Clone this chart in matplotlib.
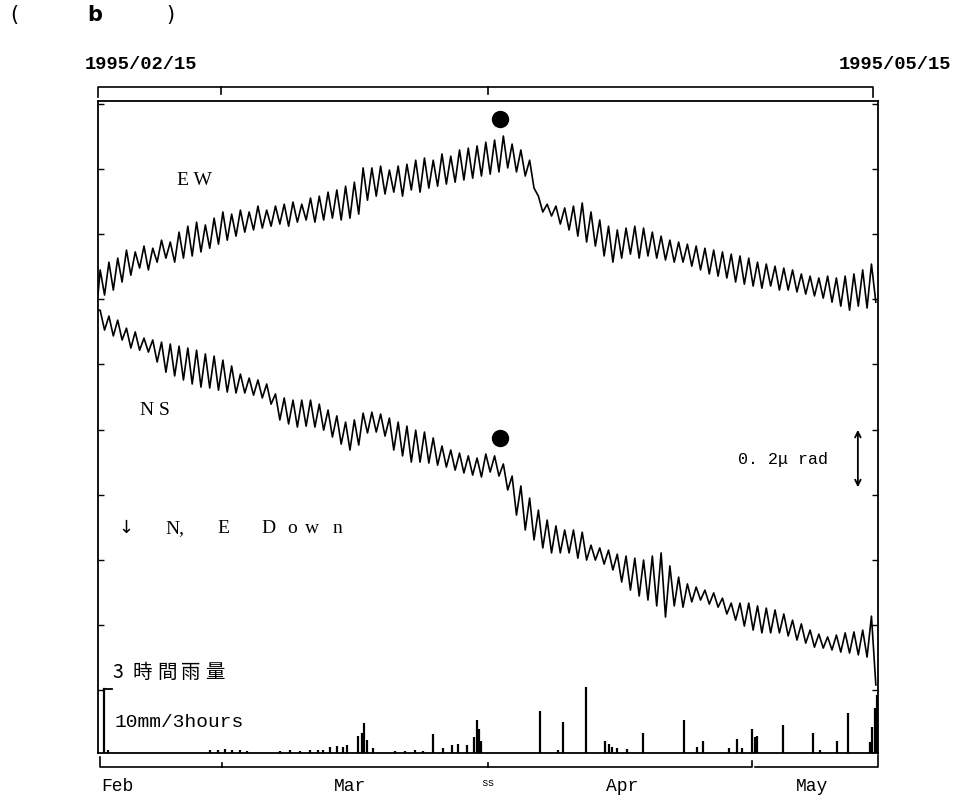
import numpy as np
import matplotlib
matplotlib.use("Agg")
import matplotlib.pyplot as plt
import matplotlib.transforms as mtransforms

# tilt record 1995/02/15 - 1995/05/15, day 0 = Feb 15
# daily high / low of each trace, micro-radian (relative)
ew_hi = [1.565, 1.590, 1.603, 1.629, 1.623, 1.642, 1.635, 1.661, 1.655, 1.687,
         1.706, 1.719, 1.710, 1.732, 1.752, 1.745, 1.758, 1.752, 1.771, 1.758,
         1.771, 1.777, 1.784, 1.777, 1.797, 1.803, 1.816, 1.823, 1.835, 1.848,
         1.894, 1.894, 1.900, 1.887, 1.900, 1.906, 1.919, 1.926, 1.919, 1.939,
         1.932, 1.952, 1.958, 1.965, 1.977, 1.984, 1.997, 1.971, 1.952, 1.919,
         1.803, 1.777, 1.771, 1.765, 1.771, 1.781, 1.752, 1.726, 1.706, 1.694,
         1.700, 1.706, 1.700, 1.687, 1.674, 1.661, 1.655, 1.648, 1.642, 1.635,
         1.629, 1.623, 1.616, 1.610, 1.603, 1.590, 1.584, 1.577, 1.571, 1.565,
         1.552, 1.545, 1.539, 1.545, 1.539, 1.545, 1.552, 1.565, 1.584]
ew_lo = [1.484, 1.500, 1.526, 1.548, 1.571, 1.565, 1.590, 1.603, 1.590, 1.603,
         1.610, 1.623, 1.635, 1.648, 1.661, 1.674, 1.687, 1.694, 1.700, 1.706,
         1.713, 1.706, 1.719, 1.726, 1.719, 1.726, 1.732, 1.726, 1.732, 1.745,
         1.790, 1.803, 1.810, 1.816, 1.803, 1.823, 1.816, 1.829, 1.835, 1.842,
         1.848, 1.855, 1.861, 1.868, 1.874, 1.881, 1.894, 1.881, 1.868, 1.829,
         1.752, 1.739, 1.713, 1.694, 1.674, 1.655, 1.642, 1.610, 1.590, 1.603,
         1.616, 1.603, 1.610, 1.603, 1.597, 1.590, 1.590, 1.577, 1.565, 1.552,
         1.545, 1.539, 1.526, 1.519, 1.513, 1.506, 1.513, 1.500, 1.500, 1.494,
         1.487, 1.481, 1.474, 1.461, 1.448, 1.435, 1.448, 1.442, 1.461]

ns_hi = [1.435, 1.416, 1.403, 1.377, 1.365, 1.345, 1.339, 1.332, 1.326, 1.319,
         1.313, 1.306, 1.294, 1.287, 1.274, 1.255, 1.229, 1.216, 1.210, 1.197,
         1.165, 1.152, 1.145, 1.145, 1.145, 1.132, 1.113, 1.094, 1.074, 1.081,
         1.103, 1.106, 1.100, 1.087, 1.074, 1.061, 1.048, 1.042, 1.023, 0.997,
         0.984, 0.974, 0.965, 0.958, 0.971, 0.965, 0.939, 0.900, 0.868, 0.829,
         0.790, 0.758, 0.739, 0.726, 0.726, 0.719, 0.677, 0.668, 0.661, 0.648,
         0.642, 0.635, 0.629, 0.642, 0.652, 0.610, 0.574, 0.552, 0.542, 0.532,
         0.523, 0.506, 0.490, 0.490, 0.490, 0.481, 0.474, 0.468, 0.455, 0.435,
         0.423, 0.403, 0.390, 0.381, 0.387, 0.394, 0.397, 0.403, 0.448]
ns_lo = [1.371, 1.352, 1.339, 1.313, 1.306, 1.300, 1.268, 1.235, 1.223, 1.210,
         1.197, 1.187, 1.184, 1.177, 1.171, 1.168, 1.168, 1.161, 1.152, 1.132,
         1.081, 1.068, 1.058, 1.061, 1.058, 1.048, 1.026, 1.003, 0.984, 1.000,
         1.039, 1.042, 1.029, 0.984, 0.965, 0.945, 0.945, 0.942, 0.935, 0.929,
         0.919, 0.910, 0.903, 0.897, 0.913, 0.900, 0.855, 0.774, 0.726, 0.694,
         0.668, 0.652, 0.652, 0.652, 0.635, 0.629, 0.629, 0.616, 0.597, 0.558,
         0.532, 0.513, 0.500, 0.481, 0.445, 0.481, 0.477, 0.494, 0.500, 0.487,
         0.477, 0.455, 0.435, 0.416, 0.403, 0.394, 0.394, 0.394, 0.384, 0.371,
         0.361, 0.348, 0.345, 0.339, 0.332, 0.329, 0.323, 0.316, 0.226]

# 3-hour rainfall events (day, mm)
rain_day = [1.1, 12.8, 13.7, 14.5, 15.3, 16.2, 17.0, 20.8, 21.9, 23.0, 24.2, 25.1, 25.7,
            26.5, 27.3, 28.0, 28.4, 29.7, 30.1, 30.4, 30.7, 31.4, 33.9, 35.0, 36.2, 37.1,
            38.2, 39.4, 40.4, 41.1, 42.1, 42.9, 43.2, 43.5, 43.7, 50.4, 52.5, 53.1, 55.7,
            57.9, 58.3, 58.6, 59.2, 60.4, 62.2, 66.9, 68.3, 69.0, 72.0, 72.9, 73.5,
            74.6, 75.0, 75.2, 78.2, 81.6, 82.4, 84.3, 85.6, 88.1, 88.3, 88.7, 88.9]
rain_mm = [0.4, 0.5, 0.4, 0.6, 0.4, 0.5, 0.3, 0.3, 0.4, 0.3, 0.5, 0.4, 0.5,
           1.0, 1.1, 1.0, 1.2, 2.6, 3.2, 4.7, 2.0, 0.8, 0.3, 0.3, 0.4, 0.3,
           3.0, 0.8, 1.2, 1.4, 1.2, 2.5, 5.2, 3.8, 1.8, 6.5, 0.5, 4.8, 10.3,
           1.9, 1.4, 1.0, 0.8, 0.6, 3.1, 5.2, 1.0, 1.8, 0.8, 2.2, 0.8,
           3.8, 2.5, 2.7, 4.4, 3.1, 0.5, 1.9, 6.3, 1.7, 4.0, 7.0, 9.0]

event_day = 45.9
ew_event = 2.052
ns_event = 1.023

months = ["Feb", "Mar", "Apr", "May"]
month_pos = [2.2, 28.8, 59.8, 81.5]
n_days = 89

# build interleaved time series (high in first half of day, low in second)
def trace(hi, lo):
    d = np.arange(len(hi))
    t = np.empty(2 * len(hi))
    v = np.empty(2 * len(hi))
    t[0::2] = d + 0.25
    t[1::2] = d + 0.75
    v[0::2] = hi
    v[1::2] = lo
    return t, v

mono = "Liberation Mono"
serif = "Liberation Serif"
cjk = ["Noto Sans CJK JP", "DejaVu Sans"]

fig = plt.figure(figsize=[9.55, 8.0], dpi=100)
ax = fig.add_axes([0.1026, 0.05875, 0.8168, 0.815])
ax.set_xlim(0, n_days)
ax.set_ylim(0.0065, 2.11)

t, v = trace(ew_hi, ew_lo)
ax.plot(np.r_[0, t], np.r_[ew_lo[0], v], color="black", lw=1.2)
t, v = trace(ns_hi, ns_lo)
ax.plot(np.r_[0, t], np.r_[ns_hi[0], v], color="black", lw=1.2)

ax.plot(event_day, ew_event, "o", color="black", ms=11.5)
ax.plot(event_day, ns_event, "o", color="black", ms=11.5)

for s in ax.spines.values():
    s.set_linewidth(1.3)
ax.set_xticks([])
ax.set_yticks(np.arange(0.21, 2.11, 0.21))
ax.tick_params(axis="y", direction="in", length=4, width=1, left=True, right=True,
               labelleft=False)

# rain panel
axr = fig.add_axes([0.1026, 0.05875, 0.8168, 0.11625])
axr.set_xlim(0, n_days)
axr.set_ylim(0, 14.53)
axr.axis("off")
axr.patch.set_alpha(0)
axr.vlines(rain_day, 0, rain_mm, color="black", lw=1.6)
axr.plot([0.68, 0.68], [0, 10], color="black", lw=1.6)
axr.plot([0.68, 1.6], [10, 10], color="black", lw=1.3)

# labels inside frame
ax.text(11.0, 1.855, "E W", family=serif, fontsize=14, ha="center", va="center")
ax.text(6.5, 1.113, "N S", family=serif, fontsize=14, ha="center", va="center")
ax.text(3.2, 0.732, "↓", family="DejaVu Sans", fontsize=13, ha="center", va="center")
ax.text(7.7, 0.732, "N,", family=serif, fontsize=14, ha="left", va="center")
ax.text(13.6, 0.732, "E", family=serif, fontsize=14, ha="left", va="center")
for ch, d in zip("Down", [19.4, 22.1, 24.4, 27.3]):
    ax.text(d, 0.732, ch, family=serif, fontsize=14, ha="center", va="center")
ax.text(73.0, 0.955, "0. 2μ rad", family=mono, fontsize=12, ha="left", va="center")
ax.annotate("", xy=(86.7, 1.058), xytext=(86.7, 0.855),
            arrowprops=dict(arrowstyle="<->", color="black", lw=1.3))
for ch, d in zip("3時間雨量", [2.3, 5.1, 7.9, 10.6, 13.3]):
    ax.text(d, 0.265, ch, family=cjk, fontsize=14, ha="center", va="center")
ax.text(1.9, 0.106, "10mm/3hours", family=mono, fontsize=14, ha="left", va="center")

# brackets and date labels outside the frame
trans = mtransforms.blended_transform_factory(ax.transData, ax.transAxes)
kw = dict(color="black", lw=1.2, transform=trans, clip_on=False)
ax.plot([0, 0, 88.4, 88.4], [1.006, 1.0215, 1.0215, 1.006], **kw)
for d in [14.0, 44.5]:
    ax.plot([d, d], [1.0215, 1.010], **kw)
ax.plot([0.2, 0.2, 74.6, 74.6], [-0.006, -0.0215, -0.0215, -0.012], **kw)
ax.plot([75.0, 89.0, 89.0], [-0.0215, -0.0215, -0.003], **kw)
for d in [14.2, 44.5]:
    ax.plot([d, d], [-0.0215, -0.016], **kw)

ax.text(4.9, 1.0567, "1995/02/15", family=mono, fontsize=13.5, fontweight="bold",
        ha="center", va="center", transform=trans)
ax.text(90.9, 1.0567, "1995/05/15", family=mono, fontsize=13.5, fontweight="bold",
        ha="center", va="center", transform=trans)
for name, p in zip(months, month_pos):
    ax.text(p, -0.051, name, family=mono, fontsize=13, ha="center", va="center",
            transform=trans)
ax.text(44.5, -0.046, "ss", family=mono, fontsize=8, ha="center", va="center",
        transform=trans)

# panel tag
fig.text(14 / 955, 0.981, "(", family="DejaVu Sans", fontsize=15, ha="center", va="center")
fig.text(95 / 955, 0.981, "b", family="DejaVu Sans", fontsize=15, fontweight="bold",
         ha="center", va="center")
fig.text(170 / 955, 0.981, ")", family="DejaVu Sans", fontsize=15, ha="center", va="center")

fig.savefig("out.png", dpi=100)
